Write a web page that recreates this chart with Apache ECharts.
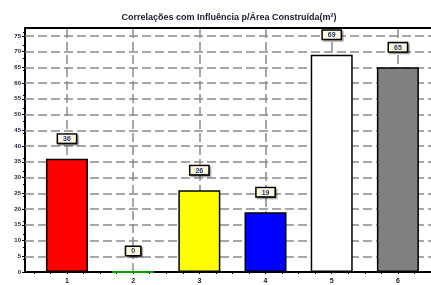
<!DOCTYPE html>
<html>
<head>
<meta charset="utf-8">
<script src="https://cdn.jsdelivr.net/npm/echarts@6/dist/echarts.min.js"></script>
<style>html,body{margin:0;padding:0;background:#fff;}#c{width:431px;height:285px;}</style>
</head>
<body>
<div id="c"></div>
<script>
const titleText = 'Correlações com Influência p/Área Construída(m²)';
const categories = [1, 2, 3, 4, 5, 6];
const values = [36, 0, 26, 19, 69, 65];
const barColors = ['#ff0000', '#00a000', '#ffff00', '#0000ff', '#ffffff', '#808080'];
const yTicks = [0, 5, 10, 15, 20, 25, 30, 35, 40, 45, 50, 55, 60, 65, 70, 75];
const xMinorTicks = [0.5, 0.75, 1, 1.25, 1.5, 1.75, 2, 2.25, 2.5, 2.75, 3, 3.25, 3.5, 3.75, 4, 4.25, 4.5, 4.75, 5, 5.25, 5.5, 5.75, 6, 6.25];

const chart = echarts.init(document.getElementById('c'), null, {renderer: 'canvas'});
const fontFam = '"Liberation Sans", Arial, sans-serif';

chart.setOption({
  animation: false,
  backgroundColor: '#ffffff',
  title: {
    text: titleText,
    left: 224, top: 8, textAlign: 'center',
    textStyle: {fontSize: 9, fontWeight: 'bold', color: '#1a1a2e', fontFamily: fontFam}
  },
  grid: {left: 25, top: 28, width: 406, height: 244, containLabel: false},
  xAxis: [{
    type: 'value', min: 0.366, max: 6.5,
    axisLine: {show: true, lineStyle: {color: '#000', width: 2}},
    axisTick: {show: true, customValues: xMinorTicks, length: 2, inside: false, lineStyle: {color: '#000', width: 1}},
    axisLabel: {show: true, customValues: categories, fontSize: 7, fontWeight: 'bold', color: '#1a1a3a', fontFamily: fontFam, margin: 6,
      formatter: v => String(v)},
    splitLine: {show: false}
  }, {
    type: 'value', position: 'top', min: 0.366, max: 6.5,
    axisLine: {show: true, lineStyle: {color: '#000', width: 2}},
    axisTick: {show: false}, axisLabel: {show: false}, splitLine: {show: false}
  }],
  yAxis: {
    type: 'value', min: 0, max: 77.5,
    axisLine: {show: true, lineStyle: {color: '#000', width: 2}},
    axisTick: {show: true, customValues: yTicks, length: 3, lineStyle: {color: '#000'}},
    minorTick: {show: true, splitNumber: 5, length: 2, lineStyle: {color: '#000'}},
    axisLabel: {show: true, customValues: yTicks, fontSize: 6, fontWeight: 'bold', color: '#1a1a3a', fontFamily: fontFam, margin: 4},
    splitLine: {show: false}
  },
  series: [
    {
      type: 'line', data: [], silent: true,
      markLine: {
        symbol: 'none', silent: true, label: {show: false},
        lineStyle: {type: [9, 4], color: '#8a8a8a', width: 1.5},
        data: yTicks.filter(v => v > 0).map(v => ({yAxis: v})).concat(categories.map(v => ({xAxis: v})))
      }
    },
    {
      type: 'bar', barWidth: 42,
      data: categories.map((c, i) => ({
        value: [c, values[i]],
        itemStyle: {color: barColors[i], borderColor: i === 1 ? barColors[i] : '#000', borderWidth: i === 1 ? 2 : 1.5}
      })),
      label: {
        show: true, position: 'top', distance: 16,
        formatter: p => String(p.value[1]),
        fontSize: 7, fontWeight: 'bold', color: '#22337a', fontFamily: fontFam,
        backgroundColor: '#fdf8dc', borderColor: '#000', borderWidth: 1.5,
        padding: [1, 5, 0, 5],
        shadowColor: 'rgba(0,0,0,0.35)', shadowOffsetX: 1.5, shadowOffsetY: 1.5, shadowBlur: 1
      },
      z: 5
    }
  ]
});
</script>
</body>
</html>
